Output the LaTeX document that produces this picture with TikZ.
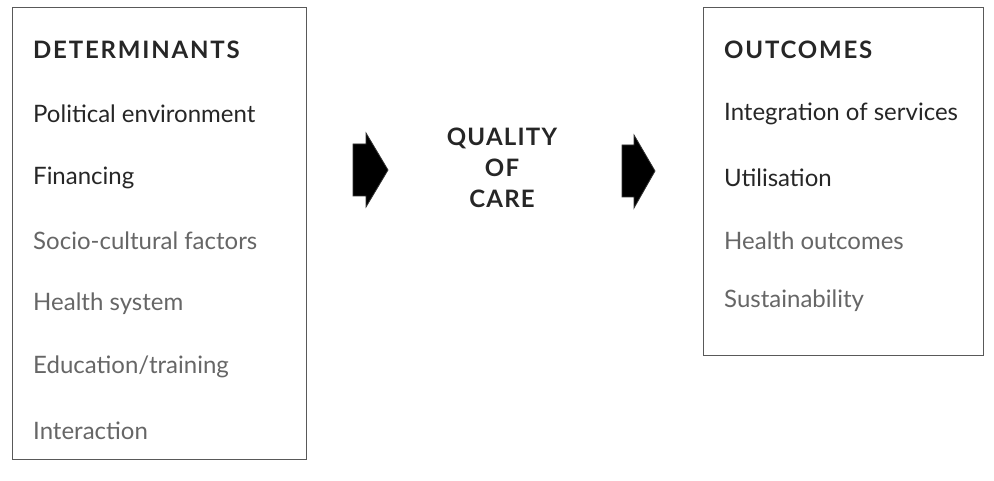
\documentclass[tikz,border=0pt]{standalone}
\usepackage{fontspec}
\setmainfont{Lato}
\newfontfamily\capsfont[LetterSpace=5]{Lato}
\newfontfamily\headfont[LetterSpace=7.5]{Lato}
\begin{document}
\begin{tikzpicture}[x=1pt,y=-1pt,
  box/.style={draw=black!65,line width=1pt},
  item/.style={anchor=west,inner sep=0pt,font=\fontsize{24}{28}\selectfont,text=black!85},
  dim/.style={item,text=black!60},
  head/.style={item,font=\headfont\fontsize{24}{28}\selectfont\bfseries},
  mid/.style={align=center,inner sep=0pt,font=\capsfont\fontsize{24}{31}\selectfont\bfseries,text=black!85},
  blk/.style={fill=black,draw=black!80,line width=0.8pt}]
\useasboundingbox (0,0) rectangle (994,481);
\node[box,minimum width=294pt,minimum height=451pt,inner sep=0pt] (L) at (159.5,233.5) {};
\node[box,minimum width=280pt,minimum height=347pt,inner sep=0pt] (R) at (843,181.5) {};
\node[head] (d0) at (33,50) {DETERMINANTS};
\node[item] (d1) at (33,114) {Political environment};
\node[item] (d2) at (33,178) {Financing};
\node[dim] (d3) at (33,241) {Socio-cultural factors};
\node[dim] (d4) at (33,304) {Health system};
\node[dim] (d5) at (33,367) {Education/training};
\node[dim] (d6) at (33,431) {Interaction};
\node[head] (o0) at (724,50) {OUTCOMES};
\node[item] (o1) at (724,114) {Integration of services};
\node[item] (o2) at (724,178) {Utilisation};
\node[dim] (o3) at (724,241) {Health outcomes};
\node[dim] (o4) at (724,301) {Sustainability};
\node[mid] (q) at (502,168) {QUALITY\\OF\\CARE};
\draw[blk] (353,144) -- (366,144) -- (366,133) -- (388,170) -- (366,207) -- (366,196) -- (353,196) -- cycle;
\draw[blk] (622,145) -- (634,145) -- (634,135) -- (655,171) -- (634,208) -- (634,197) -- (622,197) -- cycle;
\end{tikzpicture}
\end{document}
